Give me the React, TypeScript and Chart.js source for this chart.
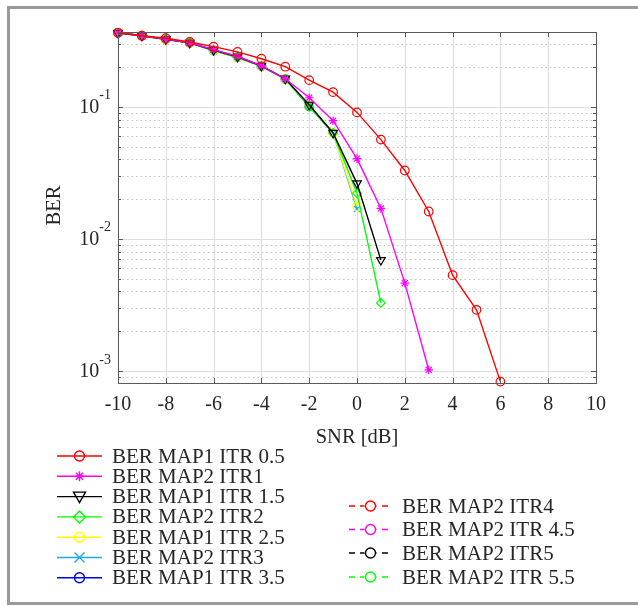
import React, { useEffect, useRef } from "react";
import { Chart, registerables } from "chart.js";
Chart.register(...registerables);

// ---------- data ----------
const SNR = [-10, -9, -8, -7, -6, -5, -4, -3, -2, -1, 0, 1, 2, 3, 4, 5, 6];
const X_TICKS = [-10, -8, -6, -4, -2, 0, 2, 4, 6, 8, 10];
const Y_DECADES = [1e-3, 1e-2, 1e-1];
const Y_TICK_BASE = "10";
const Y_TICK_EXP = ["-3", "-2", "-1"];
const Y_MIN = 8.1e-4;
const Y_MAX = 0.368;
const X_TITLE = "SNR [dB]";
const Y_TITLE = "BER";

const LABELS = [
  "BER MAP1 ITR 0.5",
  "BER MAP2 ITR1",
  "BER MAP1 ITR 1.5",
  "BER MAP2 ITR2",
  "BER MAP1 ITR 2.5",
  "BER MAP2 ITR3",
  "BER MAP1 ITR 3.5",
  "BER MAP2 ITR4",
  "BER MAP2 ITR 4.5",
  "BER MAP2 ITR5",
  "BER MAP2 ITR 5.5",
];

const berMap1Itr05 = [0.363, 0.345, 0.33, 0.309, 0.285, 0.26, 0.231, 0.201, 0.159, 0.129, 0.0906, 0.0564, 0.0329, 0.0161, 0.00531, 0.0029, 0.00083];
const berMap2Itr1 = [0.363, 0.345, 0.325, 0.305, 0.271, 0.241, 0.205, 0.163, 0.117, 0.0784, 0.0405, 0.017, 0.00462, 0.00102];
const berMap1Itr15 = [0.363, 0.345, 0.324, 0.305, 0.269, 0.239, 0.204, 0.163, 0.1035, 0.0633, 0.0263, 0.0069];
const berMap2Itr2 = [0.363, 0.345, 0.324, 0.305, 0.266, 0.237, 0.203, 0.162, 0.1, 0.0633, 0.0221, 0.00327];
const berMap1Itr25 = [0.363, 0.345, 0.324, 0.305, 0.266, 0.237, 0.203, 0.162, 0.102, 0.0633, 0.0176];
const berMap2Itr3 = [0.363, 0.345, 0.324, 0.305, 0.266, 0.237, 0.203, 0.162, 0.101, 0.0633, 0.0168];
const berMap1Itr35 = [0.363, 0.345, 0.324, 0.305, 0.266, 0.237, 0.203, 0.162, 0.101];
const berMap2Itr4: (number | null)[] = [];
const berMap2Itr45: (number | null)[] = [];
const berMap2Itr5: (number | null)[] = [];
const berMap2Itr55: (number | null)[] = [];

const SERIES = [berMap1Itr05, berMap2Itr1, berMap1Itr15, berMap2Itr2, berMap1Itr25, berMap2Itr3, berMap1Itr35, berMap2Itr4, berMap2Itr45, berMap2Itr5, berMap2Itr55];
const COLORS = ["#ff0000", "#ff00ff", "#000000", "#00ff00", "#ffff00", "#1ea8ee", "#0000ff", "#ff0000", "#ff00ff", "#000000", "#00ff00"];
const MARKERS = ["circle", "star", "triDown", "diamond", "circle", "cross", "circle", "circle", "circle", "circle", "circle"];
const DASHED = [false, false, false, false, false, false, false, true, true, true, true];

// ---------- style ----------
const FONT = '"Liberation Serif", "Times New Roman", serif';
const TXT = "#262626";

function cjsStyle(m: string) {
  switch (m) {
    case "star": return { pointStyle: "star", rotation: 0 };
    case "triDown": return { pointStyle: "triangle", rotation: 180 };
    case "diamond": return { pointStyle: "rectRot", rotation: 0 };
    case "cross": return { pointStyle: "crossRot", rotation: 0 };
    default: return { pointStyle: "circle", rotation: 0 };
  }
}

function drawMarker(ctx: CanvasRenderingContext2D, m: string, x: number, y: number, r: number, color: string) {
  ctx.save();
  ctx.strokeStyle = color;
  ctx.lineWidth = 1.4;
  ctx.setLineDash([]);
  ctx.beginPath();
  if (m === "circle") {
    ctx.arc(x, y, r, 0, Math.PI * 2);
  } else if (m === "star") {
    for (let i = 0; i < 4; i++) {
      const a = (i * Math.PI) / 4;
      ctx.moveTo(x - r * Math.cos(a), y - r * Math.sin(a));
      ctx.lineTo(x + r * Math.cos(a), y + r * Math.sin(a));
    }
  } else if (m === "triDown") {
    ctx.moveTo(x - r, y - r * 0.75);
    ctx.lineTo(x + r, y - r * 0.75);
    ctx.lineTo(x, y + r);
    ctx.closePath();
  } else if (m === "diamond") {
    ctx.moveTo(x, y - r * 1.2);
    ctx.lineTo(x + r * 1.2, y);
    ctx.lineTo(x, y + r * 1.2);
    ctx.lineTo(x - r * 1.2, y);
    ctx.closePath();
  } else if (m === "cross") {
    ctx.moveTo(x - r, y - r);
    ctx.lineTo(x + r, y + r);
    ctx.moveTo(x + r, y - r);
    ctx.lineTo(x - r, y + r);
  }
  ctx.stroke();
  ctx.restore();
}

const decorPlugin = {
  id: "decor",
  beforeDatasetsDraw(chart: any) {
    const ctx: CanvasRenderingContext2D = chart.ctx;
    const { left, right, top, bottom } = chart.chartArea;
    const xs = chart.scales.x;
    const ys = chart.scales.y;
    ctx.save();
    // frame around the figure
    ctx.fillStyle = "#9a9a9a";
    ctx.fillRect(7, 6, 631, 3);
    ctx.fillRect(7, 6, 3, 599);
    ctx.fillRect(7, 602, 631, 3);
    // minor y grid (dotted)
    ctx.strokeStyle = "#c4c4c4";
    ctx.lineWidth = 1;
    ctx.setLineDash([1.5, 3]);
    for (let d = -4; d <= 0; d++) {
      for (let k = 2; k <= 9; k++) {
        const v = k * Math.pow(10, d);
        if (v < Y_MIN || v > Y_MAX) continue;
        const py = Math.round(ys.getPixelForValue(v)) + 0.5;
        ctx.beginPath();
        ctx.moveTo(left, py);
        ctx.lineTo(right, py);
        ctx.stroke();
      }
    }
    // major grid
    ctx.setLineDash([]);
    ctx.strokeStyle = "#dedede";
    for (const t of X_TICKS) {
      const px = Math.round(xs.getPixelForValue(t)) + 0.5;
      ctx.beginPath();
      ctx.moveTo(px, top);
      ctx.lineTo(px, bottom);
      ctx.stroke();
    }
    for (const v of Y_DECADES) {
      const py = Math.round(ys.getPixelForValue(v)) + 0.5;
      ctx.beginPath();
      ctx.moveTo(left, py);
      ctx.lineTo(right, py);
      ctx.stroke();
    }
    ctx.restore();
  },
  afterDatasetsDraw(chart: any) {
    const ctx: CanvasRenderingContext2D = chart.ctx;
    const { left, right, top, bottom } = chart.chartArea;
    const xs = chart.scales.x;
    const ys = chart.scales.y;
    ctx.save();
    // axes box
    ctx.strokeStyle = "#5a5a5a";
    ctx.lineWidth = 1;
    ctx.setLineDash([]);
    ctx.strokeRect(left + 0.5, top + 0.5, right - left, bottom - top);
    // ticks
    ctx.beginPath();
    for (const t of X_TICKS) {
      const px = Math.round(xs.getPixelForValue(t)) + 0.5;
      ctx.moveTo(px, bottom);
      ctx.lineTo(px, bottom - 5);
      ctx.moveTo(px, top);
      ctx.lineTo(px, top + 5);
    }
    for (let d = -4; d <= 0; d++) {
      for (let k = 1; k <= 9; k++) {
        const v = k * Math.pow(10, d);
        if (v < Y_MIN || v > Y_MAX) continue;
        const len = k === 1 ? 5 : 3;
        const py = Math.round(ys.getPixelForValue(v)) + 0.5;
        ctx.moveTo(left, py);
        ctx.lineTo(left + len, py);
        ctx.moveTo(right, py);
        ctx.lineTo(right - len, py);
      }
    }
    ctx.stroke();

    // tick labels
    ctx.fillStyle = TXT;
    ctx.font = `20px ${FONT}`;
    ctx.textAlign = "center";
    ctx.textBaseline = "middle";
    for (const t of X_TICKS) {
      ctx.fillText(String(t), xs.getPixelForValue(t), bottom + 22);
    }
    Y_DECADES.forEach((v, i) => {
      const py = ys.getPixelForValue(v);
      ctx.font = `14px ${FONT}`;
      ctx.textAlign = "right";
      const ew = ctx.measureText(Y_TICK_EXP[i]).width;
      ctx.fillText(Y_TICK_EXP[i], 111, py - 11);
      ctx.font = `20px ${FONT}`;
      ctx.fillText(Y_TICK_BASE, 111 - ew, py + 1);
    });

    // titles
    ctx.font = `20.5px ${FONT}`;
    ctx.textAlign = "center";
    ctx.fillText(X_TITLE, (left + right) / 2, 438);
    ctx.save();
    ctx.translate(55, (top + bottom) / 2 - 2);
    ctx.rotate(-Math.PI / 2);
    ctx.fillText(Y_TITLE, 0, 0);
    ctx.restore();

    // legend
    const leftRows = [456, 476.3, 496.6, 516.9, 537.2, 557.5, 577.8];
    const rightRows = [506, 529.5, 553, 577];
    LABELS.forEach((lab, i) => {
      const isLeft = i < 7;
      const y = isLeft ? leftRows[i] : rightRows[i - 7];
      const x0 = isLeft ? 57 : 349;
      const x1 = isLeft ? 102 : 392;
      const tx = isLeft ? 112 : 402;
      ctx.strokeStyle = COLORS[i];
      ctx.lineWidth = 1.4;
      ctx.setLineDash(DASHED[i] ? [6, 5] : []);
      ctx.beginPath();
      ctx.moveTo(x0, y);
      ctx.lineTo(x1, y);
      ctx.stroke();
      ctx.setLineDash([]);
      const mx = (x0 + x1) / 2;
      if (DASHED[i]) {
        ctx.fillStyle = "#ffffff";
        ctx.fillRect(mx - 6, y - 6, 12, 12);
      }
      drawMarker(ctx, MARKERS[i], mx, y, MARKERS[i] === "triDown" ? 6 : 5, COLORS[i]);
      ctx.fillStyle = TXT;
      ctx.font = `21px ${FONT}`;
      ctx.textAlign = "left";
      ctx.textBaseline = "middle";
      ctx.fillText(lab, tx, y + 1);
    });
    ctx.restore();
  },
};

export default function App() {
  const ref = useRef<HTMLCanvasElement | null>(null);
  useEffect(() => {
    if (!ref.current) return;
    const datasets = SERIES.map((vals, i) => {
      const st = cjsStyle(MARKERS[i]);
      return {
        label: LABELS[i],
        data: vals.map((v, j) => ({ x: SNR[j], y: v })),
        borderColor: COLORS[i],
        backgroundColor: COLORS[i],
        pointBorderColor: COLORS[i],
        pointBackgroundColor: "rgba(0,0,0,0)",
        borderWidth: 1.4,
        borderDash: DASHED[i] ? [6, 5] : [],
        pointStyle: st.pointStyle,
        rotation: st.rotation,
        pointRadius: MARKERS[i] === "triDown" ? 5 : 4.3,
        pointBorderWidth: 1.2,
        tension: 0,
        spanGaps: true,
        clip: false,
        fill: false,
      };
    });
    const chart = new Chart(ref.current, {
      type: "line",
      data: { datasets } as any,
      options: {
        responsive: false,
        animation: false,
        events: [],
        layout: { padding: { left: 118, right: 42, top: 32, bottom: 223 } },
        plugins: { legend: { display: false }, tooltip: { enabled: false } },
        scales: {
          x: { type: "linear", min: -10, max: 10, display: false },
          y: { type: "logarithmic", min: Y_MIN, max: Y_MAX, display: false },
        },
      } as any,
      plugins: [decorPlugin],
    });
    return () => chart.destroy();
  }, []);
  return (
    <div style={{ position: "absolute", left: 0, top: 0, width: 638, height: 606, background: "#fff" }}>
      <canvas ref={ref} width={638} height={606} style={{ display: "block" }} />
    </div>
  );
}
